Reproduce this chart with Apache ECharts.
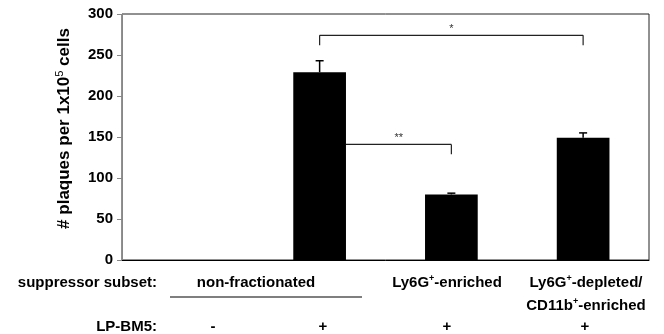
<!DOCTYPE html>
<html>
<head>
<meta charset="utf-8">
<script src="https://cdn.jsdelivr.net/npm/echarts@6/dist/echarts.min.js"></script>
<style>
  html, body { margin: 0; padding: 0; background: #fff; }
  #chart { width: 664px; height: 334px; }
</style>
</head>
<body>
<div id="chart"></div>
<script>
// data
var categories = ['nf-', 'nf+', 'ly6g', 'cd11b'];
var plaques = [0, 229, 80, 149];
var plaqueErr = [0, 14, 1.5, 6];
var yTicks = [0, 300, 50];   // min, max, interval

// significance brackets
var bracketFrom = [1, 1];
var bracketTo = [3, 2];
var bracketLevel = [274, 141];
var bracketDrop = [262, 129];
var bracketFromBarEdge = [false, true];
var bracketStars = ['*', '**'];

var FONT = '"Liberation Sans", Arial, sans-serif';

var chart = echarts.init(document.getElementById('chart'), null, { renderer: 'canvas' });

var errData = plaques.map(function (v, i) { return [i, v, plaqueErr[i]]; });
var bracketData = bracketFrom.map(function (f, i) {
    return [f, bracketTo[i], bracketLevel[i], bracketDrop[i], bracketFromBarEdge[i] ? 1 : 0, i];
});

var option = {
    animation: false,
    grid: {
        left: 122,
        right: 15,
        top: 14,
        bottom: 74,
        show: true,
        borderColor: '#222',
        borderWidth: 1
    },
    xAxis: {
        type: 'category',
        data: categories,
        axisLine: { lineStyle: { color: '#000', width: 1 } },
        axisTick: { show: false },
        axisLabel: { show: false },
        splitLine: { show: false }
    },
    yAxis: {
        type: 'value',
        min: yTicks[0],
        max: yTicks[1],
        interval: yTicks[2],
        name: '{a|# plaques per 1x10}{s|5}{a| cells}',
        nameLocation: 'middle',
        nameGap: 48,
        nameRotate: 90,
        nameTextStyle: {
            rich: {
                a: { fontFamily: FONT, fontWeight: 'bold', fontSize: 17, color: '#000', lineHeight: 20 },
                s: { fontFamily: FONT, fontWeight: 'normal', fontSize: 11, color: '#000', verticalAlign: 'top', lineHeight: 20 }
            },
            padding: [0, 0, 0, 17]
        },
        axisLine: { show: true, lineStyle: { color: '#888', width: 1 } },
        axisTick: { show: true, length: 5, lineStyle: { color: '#888' } },
        axisLabel: {
            margin: 9,
            color: '#000',
            fontFamily: FONT,
            fontWeight: 'bold',
            fontSize: 15
        },
        splitLine: { show: false }
    },
    series: [
        {
            type: 'bar',
            data: plaques,
            barWidth: '40%',
            itemStyle: { color: '#000' }
        },
        {
            type: 'custom',
            data: errData,
            z: 3,
            renderItem: function (params, api) {
                var i = api.value(0);
                var v = api.value(1);
                var e = api.value(2);
                if (!e) return null;
                var base = api.coord([i, v]);
                var top = api.coord([i, v + e]);
                return {
                    type: 'group',
                    children: [
                        { type: 'line', shape: { x1: base[0], y1: base[1], x2: top[0], y2: top[1] },
                          style: { stroke: '#000', lineWidth: 1.5 } },
                        { type: 'line', shape: { x1: top[0] - 4, y1: top[1], x2: top[0] + 4, y2: top[1] },
                          style: { stroke: '#000', lineWidth: 1.5 } }
                    ]
                };
            }
        },
        {
            type: 'custom',
            data: bracketData,
            z: 3,
            renderItem: function (params, api) {
                var band = api.size([1, 0])[0];
                var p1 = api.coord([api.value(0), api.value(2)]);
                var p2 = api.coord([api.value(1), api.value(2)]);
                var dropY = api.coord([api.value(1), api.value(3)])[1];
                var fromEdge = api.value(4) === 1;
                var x1 = fromEdge ? p1[0] + band * 0.2 : p1[0];
                var children = [
                    { type: 'line', shape: { x1: x1, y1: p1[1], x2: p2[0], y2: p2[1] },
                      style: { stroke: '#222', lineWidth: 1.2 } },
                    { type: 'line', shape: { x1: p2[0], y1: p2[1], x2: p2[0], y2: dropY },
                      style: { stroke: '#222', lineWidth: 1.2 } },
                    { type: 'text', style: {
                        text: bracketStars[api.value(5)],
                        x: (x1 + p2[0]) / 2, y: p1[1] - 6,
                        align: 'center', verticalAlign: 'middle',
                        fontFamily: FONT, fontSize: 11, fill: '#333' } }
                ];
                if (!fromEdge) {
                    children.push({ type: 'line', shape: { x1: x1, y1: p1[1], x2: x1, y2: dropY },
                        style: { stroke: '#222', lineWidth: 1.2 } });
                }
                return { type: 'group', children: children };
            }
        }
    ]
};

chart.setOption(option);

// table of conditions below the axis
var txt = { fontFamily: FONT, fontWeight: 'bold', fontSize: 15, fill: '#000' };
var rich = {
    a: { fontFamily: FONT, fontWeight: 'bold', fontSize: 15, lineHeight: 17, color: '#000' },
    s: { fontFamily: FONT, fontWeight: 'bold', fontSize: 9, lineHeight: 17, color: '#000', verticalAlign: 'top' }
};
function label(text, x, y, align) {
    return {
        type: 'text',
        style: Object.assign({ text: text, x: x, y: y, align: align || 'center', verticalAlign: 'middle', rich: rich }, txt)
    };
}

chart.setOption({
    graphic: [
        label('suppressor subset:', 157, 283, 'right'),
        label('non-fractionated', 256, 283),
        { type: 'line', shape: { x1: 170, y1: 297, x2: 362, y2: 297 }, style: { stroke: '#000', lineWidth: 1.2 } },
        label('{a|Ly6G}{s|+}{a|-enriched}', 447, 283),
        label('{a|Ly6G}{s|+}{a|-depleted/}', 586, 283),
        label('{a|CD11b}{s|+}{a|-enriched}', 586, 306),
        label('LP-BM5:', 157, 327, 'right'),
        label('-', 213, 327),
        label('+', 323, 327),
        label('+', 447, 327),
        label('+', 585, 327)
    ]
});
</script>
</body>
</html>
